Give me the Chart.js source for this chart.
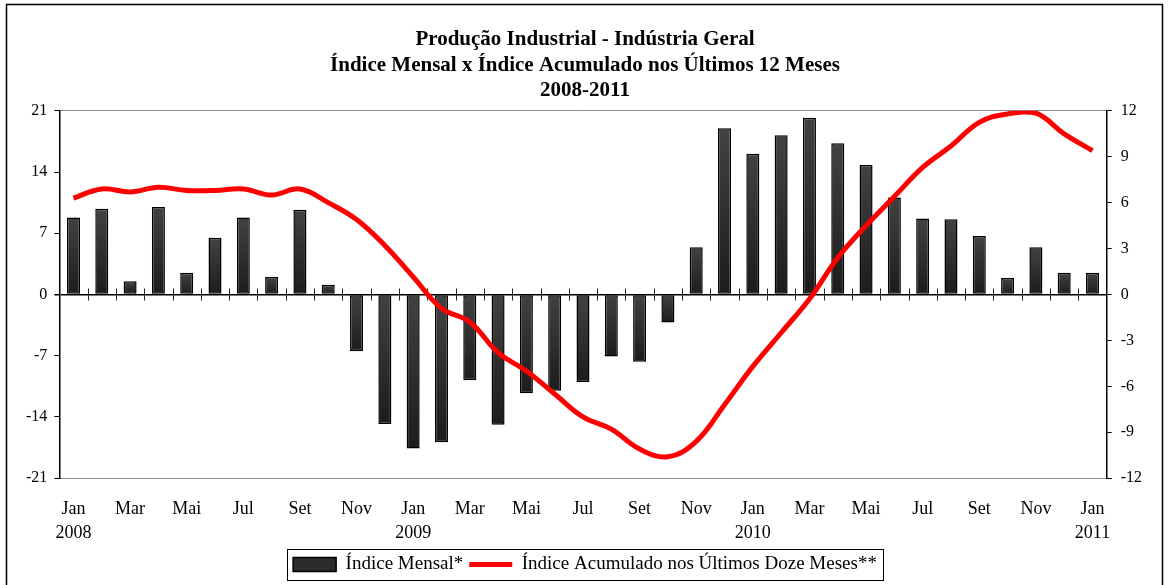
<!DOCTYPE html>
<html>
<head>
<meta charset="utf-8">
<script src="https://cdn.jsdelivr.net/npm/chart.js@4.4.1/dist/chart.umd.min.js"></script>
<style>
  html, body { margin: 0; padding: 0; background: #fff; }
  #wrap { width: 1168px; height: 585px; position: relative; }
</style>
</head>
<body>
<div id="wrap"><canvas id="c"></canvas></div>
<script>
// ---- Data ----
const categories = [
  "Jan/2008","Fev/2008","Mar/2008","Abr/2008","Mai/2008","Jun/2008","Jul/2008","Ago/2008","Set/2008","Out/2008","Nov/2008","Dez/2008",
  "Jan/2009","Fev/2009","Mar/2009","Abr/2009","Mai/2009","Jun/2009","Jul/2009","Ago/2009","Set/2009","Out/2009","Nov/2009","Dez/2009",
  "Jan/2010","Fev/2010","Mar/2010","Abr/2010","Mai/2010","Jun/2010","Jul/2010","Ago/2010","Set/2010","Out/2010","Nov/2010","Dez/2010",
  "Jan/2011"
];
const indiceMensal = [
  8.8, 9.8, 1.5, 10.0, 2.5, 6.5, 8.8, 2.0, 9.7, 1.1, -6.5, -14.8,
  -17.6, -16.9, -9.8, -14.9, -11.3, -11.0, -10.0, -7.1, -7.7, -3.2, 5.4, 19.0,
  16.1, 18.2, 20.2, 17.3, 14.8, 11.1, 8.7, 8.6, 6.7, 1.9, 5.4, 2.5,
  2.5
];
const indiceAcumulado = [
  6.3, 6.9, 6.7, 7.0, 6.8, 6.8, 6.9, 6.5, 6.9, 6.0, 4.9, 3.2,
  1.15, -0.9, -1.8, -3.8, -5.0, -6.5, -8.0, -8.8, -10.1, -10.6, -9.6, -7.2,
  -4.7, -2.5, -0.3, 2.4, 4.5, 6.4, 8.3, 9.7, 11.25, 11.8, 11.85, 10.5,
  9.4
];
const leftTicks = [-21, -14, -7, 0, 7, 14, 21];
const rightTicks = [-12, -9, -6, -3, 0, 3, 6, 9, 12];
const titleLines = [
  "Produção Industrial - Indústria Geral",
  "Índice Mensal x Índice Acumulado nos Últimos 12 Meses",
  "2008-2011"
];
const seriesNames = ["Índice Mensal*", "Índice Acumulado nos Últimos Doze Meses**"];

// ---- Chart ----
Chart.defaults.font.family = "'Liberation Serif', 'Times New Roman', serif";
Chart.defaults.color = "#000";

const framePlugin = {
  id: 'frame',
  beforeDraw(chart) {
    const c = chart.ctx;
    c.save();
    c.fillStyle = '#fff';
    c.fillRect(0, 0, chart.width, chart.height);
    c.strokeStyle = '#000';
    c.lineWidth = 1.5;
    c.strokeRect(6.5, 4.5, 1156, 600);
    c.restore();
  },
  beforeDatasetsDraw(chart) {
    // cross tick marks on the category axis line at zero
    const xs = chart.scales.x, ys = chart.scales.y;
    const y0 = ys.getPixelForValue(0);
    const w = xs.getPixelForValue(1) - xs.getPixelForValue(0);
    const c = chart.ctx;
    c.save();
    c.strokeStyle = '#222';
    c.lineWidth = 1;
    for (let i = 1; i < categories.length; i++) {
      const x = Math.round(xs.getPixelForValue(i) - w / 2) + 0.5;
      c.beginPath();
      c.moveTo(x, y0 - 6);
      c.lineTo(x, y0 + 6);
      c.stroke();
    }
    c.restore();
  },
  afterDraw(chart) {
    const lg = chart.legend;
    if (!lg || !lg.legendHitBoxes || !lg.legendHitBoxes.length) return;
    const hb = lg.legendHitBoxes;
    const left = hb[0].left - 6;
    const right = hb[hb.length - 1].left + hb[hb.length - 1].width + 6;
    const top = hb[0].top - 6;
    const bottom = hb[0].top + hb[0].height + 6;
    const c = chart.ctx;
    c.save();
    c.strokeStyle = '#000';
    c.lineWidth = 1;
    c.strokeRect(Math.round(left) + 0.5, Math.round(top) + 0.5, Math.round(right - left), Math.round(bottom - top));
    c.restore();
  }
};

function barGradient(ctx) {
  const chart = ctx.chart;
  if (ctx.type !== 'data' || !chart.chartArea || !chart.scales.y) return '#2e2e2e';
  const ys = chart.scales.y;
  const p0 = ys.getPixelForValue(0);
  const p1 = ys.getPixelForValue(ctx.raw);
  const a = Math.min(p0, p1), b = Math.max(p0, p1);
  if (!isFinite(a) || !isFinite(b) || b - a < 1) return '#2e2e2e';
  const g = chart.ctx.createLinearGradient(0, a, 0, b);
  g.addColorStop(0, '#424242');
  g.addColorStop(1, '#1c1c1c');
  return g;
}

new Chart(document.getElementById('c'), {
  type: 'bar',
  data: {
    labels: categories,
    datasets: [
      {
        type: 'bar',
        label: seriesNames[0],
        data: indiceMensal,
        yAxisID: 'y',
        backgroundColor: barGradient,
        borderColor: '#000',
        borderWidth: 1.5,
        borderSkipped: false,
        barPercentage: 0.46,
        categoryPercentage: 1.0,
        order: 2
      },
      {
        type: 'line',
        label: seriesNames[1],
        data: indiceAcumulado,
        yAxisID: 'y1',
        borderColor: '#ff0000',
        backgroundColor: '#ff0000',
        borderWidth: 5,
        pointRadius: 0,
        tension: 0.4,
        fill: false,
        order: 1
      }
    ]
  },
  options: {
    responsive: true,
    maintainAspectRatio: false,
    animation: false,
    layout: { padding: { left: 19, right: 17, top: 0, bottom: 1 } },
    plugins: {
      title: {
        display: true,
        text: titleLines,
        color: '#000',
        font: { size: 21, weight: 'bold', lineHeight: 1.22 },
        padding: { top: 27, bottom: 7 }
      },
      legend: {
        display: true,
        position: 'bottom',
        labels: {
          color: '#000',
          font: { size: 19 },
          usePointStyle: true,
          pointStyleWidth: 43,
          boxHeight: 14,
          padding: 6,
          sort: (a, b) => a.datasetIndex - b.datasetIndex,
          generateLabels(chart) {
            const items = Chart.defaults.plugins.legend.labels.generateLabels(chart);
            items.forEach(it => {
              if (it.datasetIndex === 0) {
                it.fillStyle = '#2b2b2b';
                it.strokeStyle = '#000';
                it.lineWidth = 1.5;
                it.pointStyle = 'rect';
              } else {
                it.fillStyle = '#ff0000';
                it.strokeStyle = '#ff0000';
                it.lineWidth = 5;
                it.pointStyle = 'line';
              }
            });
            return items;
          }
        }
      },
      tooltip: { enabled: false }
    },
    scales: {
      x: {
        type: 'category',
        offset: true,
        grid: { display: false, drawTicks: false },
        border: { display: true, color: '#8c8c8c', width: 1 },
        afterFit(axis) { axis.height -= 15; },
        ticks: {
          autoSkip: false,
          maxRotation: 0,
          minRotation: 0,
          padding: 19,
          color: '#000',
          font: { size: 18, lineHeight: 1.33 },
          callback(value, index) {
            if (index % 2 !== 0) return '';
            const parts = categories[index].split('/');
            return parts[0] === 'Jan' ? [parts[0], parts[1]] : parts[0];
          }
        }
      },
      y: {
        position: 'left',
        min: -21,
        max: 21,
        afterBuildTicks(axis) { axis.ticks = leftTicks.map(v => ({ value: v })); },
        ticks: { color: '#000', font: { size: 16 }, padding: 7 },
        grid: {
          drawTicks: true,
          tickLength: 5,
          tickColor: '#000',
          lineWidth: (ctx) => (ctx.tick && ctx.tick.value === 0 ? 1.5 : 1),
          color: (ctx) => {
            if (!ctx.tick) return 'transparent';
            if (ctx.tick.value === 0) return '#000';
            if (ctx.tick.value === 21 || ctx.tick.value === -21) return '#8c8c8c';
            return 'transparent';
          }
        },
        border: { display: true, color: '#000', width: 1.5 }
      },
      y1: {
        position: 'right',
        min: -12,
        max: 12,
        afterBuildTicks(axis) { axis.ticks = rightTicks.map(v => ({ value: v })); },
        ticks: { color: '#000', font: { size: 16 }, padding: 9 },
        grid: {
          drawOnChartArea: false,
          drawTicks: true,
          tickLength: 5,
          tickColor: '#000'
        },
        border: { display: true, color: '#000', width: 1.5 }
      }
    }
  },
  plugins: [framePlugin]
});
</script>
</body>
</html>
